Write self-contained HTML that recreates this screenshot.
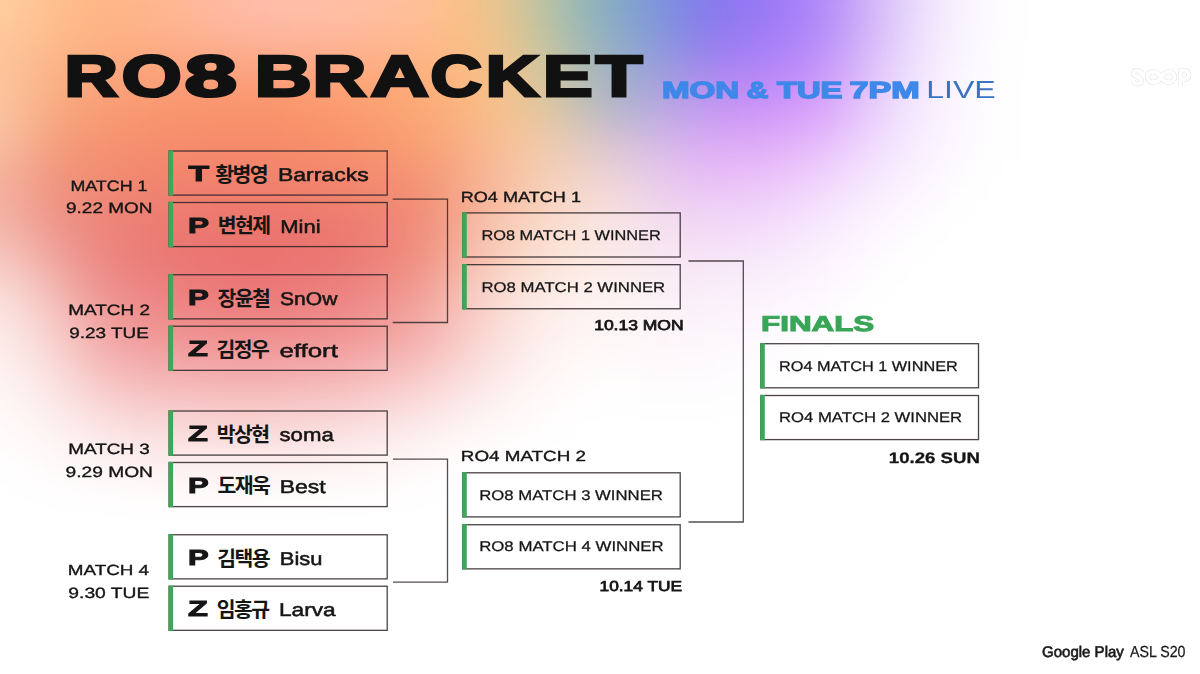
<!DOCTYPE html>
<html lang="en">
<head>
<meta charset="utf-8">
<title>RO8 Bracket</title>
<style>
html,body{margin:0;padding:0;}
body{width:1200px;height:674px;position:relative;overflow:hidden;background:#fff;font-family:"Liberation Sans",sans-serif;}
.t{position:absolute;left:0;top:0;white-space:nowrap;text-rendering:geometricPrecision;line-height:1em;transform-origin:0 0;display:block;letter-spacing:0;}
.g{position:absolute;left:0;top:0;font-size:0;line-height:0;white-space:nowrap;}
.g>.t{position:static;display:inline-block;width:0;vertical-align:top;}
.k{display:inline-block;width:0;vertical-align:top;white-space:nowrap;color:transparent;font-size:18px;line-height:20px;transform-origin:0 0;}
svg.ov{position:absolute;left:0;top:0;}
.tx{position:absolute;left:0;top:0;width:1200px;height:674px;will-change:transform;}
</style>
</head>
<body>
<svg class="ov" width="1200" height="674" viewBox="0 0 1200 674"><defs><filter id="bl" filterUnits="userSpaceOnUse" x="-200" y="-200" width="1600" height="1100" color-interpolation-filters="sRGB"><feGaussianBlur stdDeviation="22"/></filter></defs><g filter="url(#bl)"><rect x="-300" y="-300" width="1800" height="1300" fill="#fff"/><rect x="-80" y="-80" width="41" height="41" fill="#ffcfa0"/><rect x="-40" y="-80" width="41" height="41" fill="#ffcfa0"/><rect x="0" y="-80" width="41" height="41" fill="#ffc99a"/><rect x="40" y="-80" width="41" height="41" fill="#ffbe8e"/><rect x="80" y="-80" width="41" height="41" fill="#ffb585"/><rect x="120" y="-80" width="41" height="41" fill="#ffb68b"/><rect x="160" y="-80" width="41" height="41" fill="#ffb895"/><rect x="200" y="-80" width="41" height="41" fill="#ffbaa1"/><rect x="240" y="-80" width="41" height="41" fill="#ffbcaa"/><rect x="280" y="-80" width="41" height="41" fill="#ffbea8"/><rect x="320" y="-80" width="41" height="41" fill="#ffbfa6"/><rect x="360" y="-80" width="41" height="41" fill="#ffbf9f"/><rect x="400" y="-80" width="41" height="41" fill="#febf98"/><rect x="440" y="-80" width="41" height="41" fill="#fcc086"/><rect x="480" y="-80" width="41" height="41" fill="#e6c58f"/><rect x="520" y="-80" width="41" height="41" fill="#bfc4a1"/><rect x="560" y="-80" width="41" height="41" fill="#97b9b4"/><rect x="600" y="-80" width="41" height="41" fill="#82a8c9"/><rect x="640" y="-80" width="41" height="41" fill="#7d95dd"/><rect x="680" y="-80" width="41" height="41" fill="#837cea"/><rect x="720" y="-80" width="41" height="41" fill="#9077f3"/><rect x="760" y="-80" width="41" height="41" fill="#9f7bf8"/><rect x="800" y="-80" width="41" height="41" fill="#b088f8"/><rect x="840" y="-80" width="41" height="41" fill="#caaaf8"/><rect x="880" y="-80" width="41" height="41" fill="#e3cffb"/><rect x="920" y="-80" width="41" height="41" fill="#f3eafd"/><rect x="960" y="-80" width="41" height="41" fill="#fcf9ff"/><rect x="-80" y="-40" width="41" height="41" fill="#ffcfa0"/><rect x="-40" y="-40" width="41" height="41" fill="#ffcfa0"/><rect x="0" y="-40" width="41" height="41" fill="#ffc99a"/><rect x="40" y="-40" width="41" height="41" fill="#ffbe8e"/><rect x="80" y="-40" width="41" height="41" fill="#ffb585"/><rect x="120" y="-40" width="41" height="41" fill="#ffb68b"/><rect x="160" y="-40" width="41" height="41" fill="#ffb895"/><rect x="200" y="-40" width="41" height="41" fill="#ffbaa1"/><rect x="240" y="-40" width="41" height="41" fill="#ffbcaa"/><rect x="280" y="-40" width="41" height="41" fill="#ffbea8"/><rect x="320" y="-40" width="41" height="41" fill="#ffbfa6"/><rect x="360" y="-40" width="41" height="41" fill="#ffbf9f"/><rect x="400" y="-40" width="41" height="41" fill="#febf98"/><rect x="440" y="-40" width="41" height="41" fill="#fcc086"/><rect x="480" y="-40" width="41" height="41" fill="#e6c58f"/><rect x="520" y="-40" width="41" height="41" fill="#bfc4a1"/><rect x="560" y="-40" width="41" height="41" fill="#97b9b4"/><rect x="600" y="-40" width="41" height="41" fill="#82a8c9"/><rect x="640" y="-40" width="41" height="41" fill="#7d95dd"/><rect x="680" y="-40" width="41" height="41" fill="#837cea"/><rect x="720" y="-40" width="41" height="41" fill="#9077f3"/><rect x="760" y="-40" width="41" height="41" fill="#9f7bf8"/><rect x="800" y="-40" width="41" height="41" fill="#b088f8"/><rect x="840" y="-40" width="41" height="41" fill="#caaaf8"/><rect x="880" y="-40" width="41" height="41" fill="#e3cffb"/><rect x="920" y="-40" width="41" height="41" fill="#f3eafd"/><rect x="960" y="-40" width="41" height="41" fill="#fcf9ff"/><rect x="-80" y="0" width="41" height="41" fill="#ffcfa0"/><rect x="-40" y="0" width="41" height="41" fill="#ffcfa0"/><rect x="0" y="0" width="41" height="41" fill="#ffc99a"/><rect x="40" y="0" width="41" height="41" fill="#ffbe8e"/><rect x="80" y="0" width="41" height="41" fill="#ffb585"/><rect x="120" y="0" width="41" height="41" fill="#ffb68b"/><rect x="160" y="0" width="41" height="41" fill="#ffb895"/><rect x="200" y="0" width="41" height="41" fill="#ffbaa1"/><rect x="240" y="0" width="41" height="41" fill="#ffbcaa"/><rect x="280" y="0" width="41" height="41" fill="#ffbea8"/><rect x="320" y="0" width="41" height="41" fill="#ffbfa6"/><rect x="360" y="0" width="41" height="41" fill="#ffbf9f"/><rect x="400" y="0" width="41" height="41" fill="#febf98"/><rect x="440" y="0" width="41" height="41" fill="#fcc086"/><rect x="480" y="0" width="41" height="41" fill="#e6c58f"/><rect x="520" y="0" width="41" height="41" fill="#bfc4a1"/><rect x="560" y="0" width="41" height="41" fill="#97b9b4"/><rect x="600" y="0" width="41" height="41" fill="#82a8c9"/><rect x="640" y="0" width="41" height="41" fill="#7d95dd"/><rect x="680" y="0" width="41" height="41" fill="#837cea"/><rect x="720" y="0" width="41" height="41" fill="#9077f3"/><rect x="760" y="0" width="41" height="41" fill="#9f7bf8"/><rect x="800" y="0" width="41" height="41" fill="#b088f8"/><rect x="840" y="0" width="41" height="41" fill="#caaaf8"/><rect x="880" y="0" width="41" height="41" fill="#e3cffb"/><rect x="920" y="0" width="41" height="41" fill="#f3eafd"/><rect x="960" y="0" width="41" height="41" fill="#fcf9ff"/><rect x="-80" y="40" width="41" height="41" fill="#fdc59c"/><rect x="-40" y="40" width="41" height="41" fill="#fdc59c"/><rect x="0" y="40" width="41" height="41" fill="#fcbf94"/><rect x="40" y="40" width="41" height="41" fill="#fab486"/><rect x="80" y="40" width="41" height="41" fill="#fbab80"/><rect x="120" y="40" width="41" height="41" fill="#fba87e"/><rect x="160" y="40" width="41" height="41" fill="#fba781"/><rect x="200" y="40" width="41" height="41" fill="#fba885"/><rect x="240" y="40" width="41" height="41" fill="#fca989"/><rect x="280" y="40" width="41" height="41" fill="#fcab89"/><rect x="320" y="40" width="41" height="41" fill="#fdac89"/><rect x="360" y="40" width="41" height="41" fill="#fdaf87"/><rect x="400" y="40" width="41" height="41" fill="#fdb484"/><rect x="440" y="40" width="41" height="41" fill="#fdba83"/><rect x="480" y="40" width="41" height="41" fill="#f1c38d"/><rect x="520" y="40" width="41" height="41" fill="#d3c69c"/><rect x="560" y="40" width="41" height="41" fill="#adbdb2"/><rect x="600" y="40" width="41" height="41" fill="#97adca"/><rect x="640" y="40" width="41" height="41" fill="#949cdd"/><rect x="680" y="40" width="41" height="41" fill="#9c86ec"/><rect x="720" y="40" width="41" height="41" fill="#a780f4"/><rect x="760" y="40" width="41" height="41" fill="#b284f8"/><rect x="800" y="40" width="41" height="41" fill="#bf92f9"/><rect x="840" y="40" width="41" height="41" fill="#d6b4f9"/><rect x="880" y="40" width="41" height="41" fill="#e9d6fc"/><rect x="920" y="40" width="41" height="41" fill="#f6eefe"/><rect x="960" y="40" width="41" height="41" fill="#fdfbff"/><rect x="-80" y="80" width="41" height="41" fill="#fdcaa6"/><rect x="-40" y="80" width="41" height="41" fill="#fdcaa6"/><rect x="0" y="80" width="41" height="41" fill="#fbbe97"/><rect x="40" y="80" width="41" height="41" fill="#f8aa7e"/><rect x="80" y="80" width="41" height="41" fill="#f9a078"/><rect x="120" y="80" width="41" height="41" fill="#f99b73"/><rect x="160" y="80" width="41" height="41" fill="#f99870"/><rect x="200" y="80" width="41" height="41" fill="#fa966e"/><rect x="240" y="80" width="41" height="41" fill="#fa956c"/><rect x="280" y="80" width="41" height="41" fill="#fb996d"/><rect x="320" y="80" width="41" height="41" fill="#fc9d6e"/><rect x="360" y="80" width="41" height="41" fill="#fca371"/><rect x="400" y="80" width="41" height="41" fill="#fcaa74"/><rect x="440" y="80" width="41" height="41" fill="#fbb57e"/><rect x="480" y="80" width="41" height="41" fill="#f7c28a"/><rect x="520" y="80" width="41" height="41" fill="#e1c69b"/><rect x="560" y="80" width="41" height="41" fill="#bdbfb3"/><rect x="600" y="80" width="41" height="41" fill="#aab1cc"/><rect x="640" y="80" width="41" height="41" fill="#b1a6de"/><rect x="680" y="80" width="41" height="41" fill="#ba97ed"/><rect x="720" y="80" width="41" height="41" fill="#c38ff5"/><rect x="760" y="80" width="41" height="41" fill="#cc91f9"/><rect x="800" y="80" width="41" height="41" fill="#d59efa"/><rect x="840" y="80" width="41" height="41" fill="#e3befb"/><rect x="880" y="80" width="41" height="41" fill="#efdffd"/><rect x="920" y="80" width="41" height="41" fill="#f9f2fe"/><rect x="960" y="80" width="41" height="41" fill="#fefcff"/><rect x="-80" y="120" width="41" height="41" fill="#f9c5a8"/><rect x="-40" y="120" width="41" height="41" fill="#f9c5a8"/><rect x="0" y="120" width="41" height="41" fill="#f7b696"/><rect x="40" y="120" width="41" height="41" fill="#f49d7a"/><rect x="80" y="120" width="41" height="41" fill="#f69570"/><rect x="120" y="120" width="41" height="41" fill="#f6906c"/><rect x="160" y="120" width="41" height="41" fill="#f78d6b"/><rect x="200" y="120" width="41" height="41" fill="#f78c6a"/><rect x="240" y="120" width="41" height="41" fill="#f78b69"/><rect x="280" y="120" width="41" height="41" fill="#f88f6a"/><rect x="320" y="120" width="41" height="41" fill="#f9926b"/><rect x="360" y="120" width="41" height="41" fill="#f9996f"/><rect x="400" y="120" width="41" height="41" fill="#faa274"/><rect x="440" y="120" width="41" height="41" fill="#f9ae83"/><rect x="480" y="120" width="41" height="41" fill="#f8bf94"/><rect x="520" y="120" width="41" height="41" fill="#f1c9a7"/><rect x="560" y="120" width="41" height="41" fill="#e2c9be"/><rect x="600" y="120" width="41" height="41" fill="#d4c1d6"/><rect x="640" y="120" width="41" height="41" fill="#d4b7e7"/><rect x="680" y="120" width="41" height="41" fill="#d8aaf3"/><rect x="720" y="120" width="41" height="41" fill="#dca6f7"/><rect x="760" y="120" width="41" height="41" fill="#e0abf9"/><rect x="800" y="120" width="41" height="41" fill="#e5b8fb"/><rect x="840" y="120" width="41" height="41" fill="#edd1fc"/><rect x="880" y="120" width="41" height="41" fill="#f4e6fe"/><rect x="920" y="120" width="41" height="41" fill="#faf4ff"/><rect x="960" y="120" width="41" height="41" fill="#fefcff"/><rect x="-80" y="160" width="41" height="41" fill="#f4b6a1"/><rect x="-40" y="160" width="41" height="41" fill="#f4b6a1"/><rect x="0" y="160" width="41" height="41" fill="#f3a893"/><rect x="40" y="160" width="41" height="41" fill="#f0917b"/><rect x="80" y="160" width="41" height="41" fill="#f18c74"/><rect x="120" y="160" width="41" height="41" fill="#f18670"/><rect x="160" y="160" width="41" height="41" fill="#f1846e"/><rect x="200" y="160" width="41" height="41" fill="#f1826d"/><rect x="240" y="160" width="41" height="41" fill="#f1816d"/><rect x="280" y="160" width="41" height="41" fill="#f2846d"/><rect x="320" y="160" width="41" height="41" fill="#f2866e"/><rect x="360" y="160" width="41" height="41" fill="#f38c70"/><rect x="400" y="160" width="41" height="41" fill="#f49474"/><rect x="440" y="160" width="41" height="41" fill="#f6a786"/><rect x="480" y="160" width="41" height="41" fill="#f8bc9d"/><rect x="520" y="160" width="41" height="41" fill="#f7cdb4"/><rect x="560" y="160" width="41" height="41" fill="#f3d5c9"/><rect x="600" y="160" width="41" height="41" fill="#edd4dd"/><rect x="640" y="160" width="41" height="41" fill="#e8caeb"/><rect x="680" y="160" width="41" height="41" fill="#e8c1f4"/><rect x="720" y="160" width="41" height="41" fill="#eac1f8"/><rect x="760" y="160" width="41" height="41" fill="#edc7fa"/><rect x="800" y="160" width="41" height="41" fill="#f0d3fc"/><rect x="840" y="160" width="41" height="41" fill="#f5e4fd"/><rect x="880" y="160" width="41" height="41" fill="#f9f0fe"/><rect x="920" y="160" width="41" height="41" fill="#fdf9ff"/><rect x="-80" y="200" width="41" height="41" fill="#f4b7aa"/><rect x="-40" y="200" width="41" height="41" fill="#f4b7aa"/><rect x="0" y="200" width="41" height="41" fill="#f2a99d"/><rect x="40" y="200" width="41" height="41" fill="#ee9186"/><rect x="80" y="200" width="41" height="41" fill="#ed867a"/><rect x="120" y="200" width="41" height="41" fill="#ec7e74"/><rect x="160" y="200" width="41" height="41" fill="#ec7a71"/><rect x="200" y="200" width="41" height="41" fill="#ec786f"/><rect x="240" y="200" width="41" height="41" fill="#ec766e"/><rect x="280" y="200" width="41" height="41" fill="#ec786f"/><rect x="320" y="200" width="41" height="41" fill="#ed7b70"/><rect x="360" y="200" width="41" height="41" fill="#ee8273"/><rect x="400" y="200" width="41" height="41" fill="#f08c77"/><rect x="440" y="200" width="41" height="41" fill="#f4a68e"/><rect x="480" y="200" width="41" height="41" fill="#f8c0a8"/><rect x="520" y="200" width="41" height="41" fill="#fad4c1"/><rect x="560" y="200" width="41" height="41" fill="#f9dfd4"/><rect x="600" y="200" width="41" height="41" fill="#f8e1e2"/><rect x="640" y="200" width="41" height="41" fill="#f3daee"/><rect x="680" y="200" width="41" height="41" fill="#f1d6f5"/><rect x="720" y="200" width="41" height="41" fill="#f2d7f9"/><rect x="760" y="200" width="41" height="41" fill="#f4ddfb"/><rect x="800" y="200" width="41" height="41" fill="#f7e7fd"/><rect x="840" y="200" width="41" height="41" fill="#faf1fe"/><rect x="880" y="200" width="41" height="41" fill="#fdf9ff"/><rect x="-80" y="240" width="41" height="41" fill="#f7cec7"/><rect x="-40" y="240" width="41" height="41" fill="#f7cec7"/><rect x="0" y="240" width="41" height="41" fill="#f4beb7"/><rect x="40" y="240" width="41" height="41" fill="#efa19a"/><rect x="80" y="240" width="41" height="41" fill="#ec8882"/><rect x="120" y="240" width="41" height="41" fill="#eb7c78"/><rect x="160" y="240" width="41" height="41" fill="#ea7673"/><rect x="200" y="240" width="41" height="41" fill="#ea7270"/><rect x="240" y="240" width="41" height="41" fill="#ea706e"/><rect x="280" y="240" width="41" height="41" fill="#ea7370"/><rect x="320" y="240" width="41" height="41" fill="#ea7673"/><rect x="360" y="240" width="41" height="41" fill="#ed827a"/><rect x="400" y="240" width="41" height="41" fill="#f09082"/><rect x="440" y="240" width="41" height="41" fill="#f5b09e"/><rect x="480" y="240" width="41" height="41" fill="#f9cbb8"/><rect x="520" y="240" width="41" height="41" fill="#fcded0"/><rect x="560" y="240" width="41" height="41" fill="#fce8df"/><rect x="600" y="240" width="41" height="41" fill="#fbe9e8"/><rect x="640" y="240" width="41" height="41" fill="#f8e6f0"/><rect x="680" y="240" width="41" height="41" fill="#f7e5f6"/><rect x="720" y="240" width="41" height="41" fill="#f7e7f9"/><rect x="760" y="240" width="41" height="41" fill="#f9ecfc"/><rect x="800" y="240" width="41" height="41" fill="#fbf2fd"/><rect x="840" y="240" width="41" height="41" fill="#fdf9ff"/><rect x="-80" y="280" width="41" height="41" fill="#fbe6e2"/><rect x="-40" y="280" width="41" height="41" fill="#fbe6e2"/><rect x="0" y="280" width="41" height="41" fill="#f9d8d4"/><rect x="40" y="280" width="41" height="41" fill="#f4bab6"/><rect x="80" y="280" width="41" height="41" fill="#ee9894"/><rect x="120" y="280" width="41" height="41" fill="#ed8a87"/><rect x="160" y="280" width="41" height="41" fill="#ed8281"/><rect x="200" y="280" width="41" height="41" fill="#ec7e7d"/><rect x="240" y="280" width="41" height="41" fill="#ec7b7b"/><rect x="280" y="280" width="41" height="41" fill="#ec7f7e"/><rect x="320" y="280" width="41" height="41" fill="#ed8381"/><rect x="360" y="280" width="41" height="41" fill="#ef908b"/><rect x="400" y="280" width="41" height="41" fill="#f2a098"/><rect x="440" y="280" width="41" height="41" fill="#f7c0b8"/><rect x="480" y="280" width="41" height="41" fill="#fad9d1"/><rect x="520" y="280" width="41" height="41" fill="#fce9e3"/><rect x="560" y="280" width="41" height="41" fill="#fdf1ed"/><rect x="600" y="280" width="41" height="41" fill="#fcf2f1"/><rect x="640" y="280" width="41" height="41" fill="#fbf0f5"/><rect x="680" y="280" width="41" height="41" fill="#faf0f8"/><rect x="720" y="280" width="41" height="41" fill="#fbf2fb"/><rect x="760" y="280" width="41" height="41" fill="#fcf5fd"/><rect x="800" y="280" width="41" height="41" fill="#fdf8fe"/><rect x="-80" y="320" width="41" height="41" fill="#fdf0ed"/><rect x="-40" y="320" width="41" height="41" fill="#fdf0ed"/><rect x="0" y="320" width="41" height="41" fill="#fbe5e3"/><rect x="40" y="320" width="41" height="41" fill="#f7ccca"/><rect x="80" y="320" width="41" height="41" fill="#f2aaa9"/><rect x="120" y="320" width="41" height="41" fill="#f19b9b"/><rect x="160" y="320" width="41" height="41" fill="#f09595"/><rect x="200" y="320" width="41" height="41" fill="#f09191"/><rect x="240" y="320" width="41" height="41" fill="#ef9090"/><rect x="280" y="320" width="41" height="41" fill="#f09393"/><rect x="320" y="320" width="41" height="41" fill="#f19696"/><rect x="360" y="320" width="41" height="41" fill="#f2a2a0"/><rect x="400" y="320" width="41" height="41" fill="#f4b0ad"/><rect x="440" y="320" width="41" height="41" fill="#f8cac6"/><rect x="480" y="320" width="41" height="41" fill="#fbe0dd"/><rect x="520" y="320" width="41" height="41" fill="#fdefed"/><rect x="560" y="320" width="41" height="41" fill="#fef6f5"/><rect x="600" y="320" width="41" height="41" fill="#fdf8f8"/><rect x="640" y="320" width="41" height="41" fill="#fdf6f9"/><rect x="680" y="320" width="41" height="41" fill="#fcf6fb"/><rect x="720" y="320" width="41" height="41" fill="#fdf8fd"/><rect x="760" y="320" width="41" height="41" fill="#fefbfe"/><rect x="-80" y="360" width="41" height="41" fill="#fef7f5"/><rect x="-40" y="360" width="41" height="41" fill="#fef7f5"/><rect x="0" y="360" width="41" height="41" fill="#fcf0ee"/><rect x="40" y="360" width="41" height="41" fill="#fadedd"/><rect x="80" y="360" width="41" height="41" fill="#f7c5c5"/><rect x="120" y="360" width="41" height="41" fill="#f5b9b9"/><rect x="160" y="360" width="41" height="41" fill="#f5b4b4"/><rect x="200" y="360" width="41" height="41" fill="#f4b2b2"/><rect x="240" y="360" width="41" height="41" fill="#f4b0b0"/><rect x="280" y="360" width="41" height="41" fill="#f5b4b4"/><rect x="320" y="360" width="41" height="41" fill="#f5b7b7"/><rect x="360" y="360" width="41" height="41" fill="#f7c0c0"/><rect x="400" y="360" width="41" height="41" fill="#f8cccb"/><rect x="440" y="360" width="41" height="41" fill="#fadddc"/><rect x="480" y="360" width="41" height="41" fill="#fceceb"/><rect x="520" y="360" width="41" height="41" fill="#fef7f6"/><rect x="560" y="360" width="41" height="41" fill="#fffcfc"/><rect x="600" y="360" width="41" height="41" fill="#fffdfd"/><rect x="640" y="360" width="41" height="41" fill="#fefcfd"/><rect x="680" y="360" width="41" height="41" fill="#fefcfe"/><rect x="720" y="360" width="41" height="41" fill="#fefdfe"/><rect x="-80" y="400" width="41" height="41" fill="#fefcfb"/><rect x="-40" y="400" width="41" height="41" fill="#fefcfb"/><rect x="0" y="400" width="41" height="41" fill="#fef8f7"/><rect x="40" y="400" width="41" height="41" fill="#fceeed"/><rect x="80" y="400" width="41" height="41" fill="#fbe0e0"/><rect x="120" y="400" width="41" height="41" fill="#f9d7d7"/><rect x="160" y="400" width="41" height="41" fill="#f9d4d4"/><rect x="200" y="400" width="41" height="41" fill="#f9d2d2"/><rect x="240" y="400" width="41" height="41" fill="#f9d2d2"/><rect x="280" y="400" width="41" height="41" fill="#f9d5d5"/><rect x="320" y="400" width="41" height="41" fill="#fad8d8"/><rect x="360" y="400" width="41" height="41" fill="#fbdfdf"/><rect x="400" y="400" width="41" height="41" fill="#fce7e7"/><rect x="440" y="400" width="41" height="41" fill="#fdf1f1"/><rect x="480" y="400" width="41" height="41" fill="#fef8f8"/><rect x="520" y="400" width="41" height="41" fill="#fffdfd"/><rect x="0" y="440" width="41" height="41" fill="#fffdfd"/><rect x="40" y="440" width="41" height="41" fill="#fef9f9"/><rect x="80" y="440" width="41" height="41" fill="#fdf4f4"/><rect x="120" y="440" width="41" height="41" fill="#fdefef"/><rect x="160" y="440" width="41" height="41" fill="#fdeded"/><rect x="200" y="440" width="41" height="41" fill="#fdeded"/><rect x="240" y="440" width="41" height="41" fill="#fdeded"/><rect x="280" y="440" width="41" height="41" fill="#fdefef"/><rect x="320" y="440" width="41" height="41" fill="#fdf1f1"/><rect x="360" y="440" width="41" height="41" fill="#fef5f5"/><rect x="400" y="440" width="41" height="41" fill="#fef9f9"/></g></svg>
<svg class="ov" width="1200" height="674" viewBox="0 0 1200 674">
<g stroke="#2b2224" stroke-opacity=".85" stroke-width="1.3">
<rect x="169.10" y="151.00" width="218.10" height="44.10" fill="none"/>
<rect x="169.10" y="202.50" width="218.10" height="44.10" fill="none"/>
<rect x="169.10" y="274.75" width="218.10" height="44.10" fill="none"/>
<rect x="169.10" y="326.25" width="218.10" height="44.10" fill="none"/>
<rect x="169.10" y="411.00" width="218.10" height="44.10" fill="none"/>
<rect x="169.10" y="462.50" width="218.10" height="44.10" fill="none"/>
<rect x="169.10" y="534.75" width="218.10" height="44.10" fill="none"/>
<rect x="169.10" y="586.25" width="218.10" height="44.10" fill="none"/>
<rect x="462.80" y="212.90" width="217.40" height="44.10" fill="rgba(255,255,255,.1)"/>
<rect x="462.80" y="264.65" width="217.40" height="44.10" fill="rgba(255,255,255,.1)"/>
<rect x="462.80" y="472.80" width="217.40" height="44.10" fill="rgba(255,255,255,.1)"/>
<rect x="462.80" y="524.75" width="217.40" height="44.10" fill="rgba(255,255,255,.1)"/>
<rect x="760.80" y="343.70" width="217.70" height="44.10" fill="rgba(255,255,255,.1)"/>
<rect x="760.80" y="395.50" width="217.70" height="44.10" fill="rgba(255,255,255,.1)"/>
</g>
<g fill="#3da75a">
<rect x="168.50" y="150.40" width="4.6" height="45.30"/>
<rect x="168.50" y="201.90" width="4.6" height="45.30"/>
<rect x="168.50" y="274.15" width="4.6" height="45.30"/>
<rect x="168.50" y="325.65" width="4.6" height="45.30"/>
<rect x="168.50" y="410.40" width="4.6" height="45.30"/>
<rect x="168.50" y="461.90" width="4.6" height="45.30"/>
<rect x="168.50" y="534.15" width="4.6" height="45.30"/>
<rect x="168.50" y="585.65" width="4.6" height="45.30"/>
<rect x="462.20" y="212.30" width="4.6" height="45.30"/>
<rect x="462.20" y="264.05" width="4.6" height="45.30"/>
<rect x="462.20" y="472.20" width="4.6" height="45.30"/>
<rect x="462.20" y="524.15" width="4.6" height="45.30"/>
<rect x="760.20" y="343.10" width="4.6" height="45.30"/>
<rect x="760.20" y="394.90" width="4.6" height="45.30"/>
</g>
<g fill="none" stroke="#2b2224" stroke-opacity=".8" stroke-width="1.3">
<path d="M392.7 199.1H447.5V322.5H392.7"/>
<path d="M393 459.1H447.5V582.1H393"/>
<path d="M688.5 261H743.3V522H688.5"/>
</g>
<g fill="#151515" font-family="&quot;Liberation Sans&quot;, &quot;Noto Sans CJK KR&quot;, sans-serif" font-size="20.5" font-weight="700" letter-spacing="-1.6">
<text x="215.28" y="181.95">황병영</text>
<text x="217.85" y="233.45">변현제</text>
<text x="217.59" y="305.70">장윤철</text>
<text x="216.58" y="357.20">김정우</text>
<text x="216.79" y="441.95">박상현</text>
<text x="217.42" y="493.45">도재욱</text>
<text x="217.34" y="565.70">김택용</text>
<text x="216.74" y="617.20">임홍규</text>
</g>
<g fill="none" stroke-linecap="butt" stroke-linejoin="round">
<g stroke="#e2e2e2" stroke-width="5">
<path d="M1141.500 73C1139.500 69.500 1133.500 69.800 1133.500 73.600C1133.500 77.200 1141.500 76.600 1141.500 80.500C1141.500 84.600 1135 84.600 1133 81.200"/>
<path d="M1161 77C1157 70 1147.500 70 1147.500 77C1147.500 84 1157 84 1161 77C1165 70 1174.500 70 1174.500 77C1174.500 84 1165 84 1161 77Z"/>
<path d="M1180.500 86V70.500H1184.500C1190.300 70.500 1190.300 79.500 1184.500 79.500H1180.500"/>
</g>
<g stroke="#fff" stroke-width="3.8">
<path d="M1141.500 73C1139.500 69.500 1133.500 69.800 1133.500 73.600C1133.500 77.200 1141.500 76.600 1141.500 80.500C1141.500 84.600 1135 84.600 1133 81.200"/>
<path d="M1161 77C1157 70 1147.500 70 1147.500 77C1147.500 84 1157 84 1161 77C1165 70 1174.500 70 1174.500 77C1174.500 84 1165 84 1161 77Z"/>
<path d="M1180.500 86V70.500H1184.500C1190.300 70.500 1190.300 79.500 1184.500 79.500H1180.500"/>
</g>
</g>
</svg>
<div class="tx">
<div class="g"><span class="t" style="font-size:57.85px;transform:translate(64.41px,49.45px) scaleX(1.2744);color:#111;font-weight:700;-webkit-text-stroke:3.0px #111;">R</span><span class="t" style="font-size:57.85px;transform:translate(121.70px,49.34px) scaleX(1.3299);color:#111;font-weight:700;-webkit-text-stroke:3.0px #111;">O</span><span class="t" style="font-size:57.85px;transform:translate(184.65px,49.23px) scaleX(1.6186);color:#111;font-weight:700;-webkit-text-stroke:3.0px #111;">8</span> <span class="t" style="font-size:57.85px;transform:translate(254.63px,49.34px) scaleX(1.3612);color:#111;font-weight:700;-webkit-text-stroke:3.0px #111;">B</span><span class="t" style="font-size:57.85px;transform:translate(312.86px,49.45px) scaleX(1.2767);color:#111;font-weight:700;-webkit-text-stroke:3.0px #111;">R</span><span class="t" style="font-size:57.85px;transform:translate(370.75px,49.45px) scaleX(1.3865);color:#111;font-weight:700;-webkit-text-stroke:3.0px #111;">A</span><span class="t" style="font-size:57.85px;transform:translate(430.59px,49.23px) scaleX(1.2318);color:#111;font-weight:700;-webkit-text-stroke:3.0px #111;">C</span><span class="t" style="font-size:57.85px;transform:translate(485.73px,49.23px) scaleX(1.2648);color:#111;font-weight:700;-webkit-text-stroke:3.0px #111;">K</span><span class="t" style="font-size:57.85px;transform:translate(542.96px,49.23px) scaleX(1.2836);color:#111;font-weight:700;-webkit-text-stroke:3.0px #111;">E</span><span class="t" style="font-size:57.85px;transform:translate(595.71px,49.23px) scaleX(1.3170);color:#111;font-weight:700;-webkit-text-stroke:3.0px #111;">T</span></div>
<div class="g"><span class="t" style="font-size:23.26px;transform:translate(662.00px,79.01px) scaleX(1.4243);color:#3f88ea;font-weight:700;-webkit-text-stroke:1.4px #3f88ea;">MON</span> <span class="t" style="font-size:23.26px;transform:translate(746.47px,78.68px) scaleX(1.2997);color:#3f88ea;font-weight:700;-webkit-text-stroke:1.4px #3f88ea;">&amp;</span> <span class="t" style="font-size:23.26px;transform:translate(776.90px,79.01px) scaleX(1.4067);color:#3f88ea;font-weight:700;-webkit-text-stroke:1.4px #3f88ea;">TUE</span> <span class="t" style="font-size:23.26px;transform:translate(849.52px,78.68px) scaleX(1.4671);color:#3f88ea;font-weight:700;-webkit-text-stroke:1.4px #3f88ea;">7PM</span> <span class="t" style="font-size:24.71px;transform:translate(926.16px,79.08px) scaleX(1.2991);color:#3a72c4;">LIVE</span></div>
<div class="g"><span class="t" style="font-size:15.04px;transform:translate(70.46px,178.84px) scaleX(1.1859);color:#151515;-webkit-text-stroke:0.35px #151515;">MATCH 1</span> <span class="t" style="font-size:15.04px;transform:translate(66.00px,201.09px) scaleX(1.2641);color:#151515;-webkit-text-stroke:0.35px #151515;">9.22 MON</span></div>
<div class="g"><span class="t" style="font-size:14.90px;transform:translate(68.22px,304.21px) scaleX(1.2724);color:#151515;-webkit-text-stroke:0.35px #151515;">MATCH 2</span> <span class="t" style="font-size:14.90px;transform:translate(69.17px,327.21px) scaleX(1.2707);color:#151515;-webkit-text-stroke:0.35px #151515;">9.23 TUE</span></div>
<div class="g"><span class="t" style="font-size:14.90px;transform:translate(68.24px,443.21px) scaleX(1.2691);color:#151515;-webkit-text-stroke:0.35px #151515;">MATCH 3</span> <span class="t" style="font-size:14.90px;transform:translate(65.54px,465.96px) scaleX(1.2878);color:#151515;-webkit-text-stroke:0.35px #151515;">9.29 MON</span></div>
<div class="g"><span class="t" style="font-size:14.68px;transform:translate(67.76px,564.14px) scaleX(1.2847);color:#151515;-webkit-text-stroke:0.35px #151515;">MATCH 4</span> <span class="t" style="font-size:14.90px;transform:translate(68.36px,586.91px) scaleX(1.2926);color:#151515;-webkit-text-stroke:0.35px #151515;">9.30 TUE</span></div>
<span class="t" style="font-size:14.75px;transform:translate(460.69px,190.83px) scaleX(1.2262);color:#151515;-webkit-text-stroke:0.35px #151515;">RO4 MATCH 1</span>
<span class="t" style="font-size:14.61px;transform:translate(460.78px,450.41px) scaleX(1.2889);color:#151515;-webkit-text-stroke:0.35px #151515;">RO4 MATCH 2</span>
<span class="t" style="font-size:14.03px;transform:translate(481.43px,227.85px) scaleX(1.1653);color:#151515;-webkit-text-stroke:0.25px #151515;">RO8 MATCH 1 WINNER</span>
<span class="t" style="font-size:14.03px;transform:translate(481.53px,279.50px) scaleX(1.1932);color:#151515;-webkit-text-stroke:0.25px #151515;">RO8 MATCH 2 WINNER</span>
<span class="t" style="font-size:14.03px;transform:translate(479.25px,487.85px) scaleX(1.1931);color:#151515;-webkit-text-stroke:0.25px #151515;">RO8 MATCH 3 WINNER</span>
<span class="t" style="font-size:14.03px;transform:translate(479.16px,539.15px) scaleX(1.1989);color:#151515;-webkit-text-stroke:0.25px #151515;">RO8 MATCH 4 WINNER</span>
<span class="t" style="font-size:14.03px;transform:translate(779.02px,358.55px) scaleX(1.1613);color:#151515;-webkit-text-stroke:0.25px #151515;">RO4 MATCH 1 WINNER</span>
<span class="t" style="font-size:14.03px;transform:translate(779.03px,410.05px) scaleX(1.1898);color:#151515;-webkit-text-stroke:0.25px #151515;">RO4 MATCH 2 WINNER</span>
<span class="t" style="font-size:14.32px;transform:translate(594.15px,319.21px) scaleX(1.2223);color:#151515;-webkit-text-stroke:0.75px #151515;">10.13 MON</span>
<span class="t" style="font-size:14.46px;transform:translate(599.54px,579.89px) scaleX(1.1986);color:#151515;-webkit-text-stroke:0.75px #151515;">10.14 TUE</span>
<span class="t" style="font-size:15.12px;transform:translate(888.81px,450.50px) scaleX(1.2314);color:#151515;font-weight:700;-webkit-text-stroke:0.3px #151515;">10.26 SUN</span>
<span class="t" style="font-size:21.51px;transform:translate(761.01px,314.41px) scaleX(1.4592);color:#39a557;font-weight:700;-webkit-text-stroke:1.0px #39a557;">FINALS</span>
<div class="g"><span class="t" style="font-size:21.80px;transform:translate(188.46px,162.56px) scaleX(1.5473);color:#151515;font-weight:700;-webkit-text-stroke:1.0px #151515;">T</span> <span class="k" style="transform:translate(214.9px,162.5px)">황병영</span> <span class="t" style="font-size:18.46px;transform:translate(277.92px,166.37px) scaleX(1.2469);color:#151515;-webkit-text-stroke:0.5px #151515;">Barracks</span></div>
<div class="g"><span class="t" style="font-size:21.80px;transform:translate(188.05px,214.57px) scaleX(1.4484);color:#151515;font-weight:700;-webkit-text-stroke:1.0px #151515;">P</span> <span class="k" style="transform:translate(219.5px,214.0px)">변현제</span> <span class="t" style="font-size:18.46px;transform:translate(280.16px,218.12px) scaleX(1.1956);color:#151515;-webkit-text-stroke:0.5px #151515;">Mini</span></div>
<div class="g"><span class="t" style="font-size:21.80px;transform:translate(188.09px,286.81px) scaleX(1.4318);color:#151515;font-weight:700;-webkit-text-stroke:1.0px #151515;">P</span> <span class="k" style="transform:translate(218.0px,286.2px)">장윤철</span> <span class="t" style="font-size:18.46px;transform:translate(280.04px,290.37px) scaleX(1.1435);color:#151515;-webkit-text-stroke:0.5px #151515;">SnOw</span></div>
<div class="g"><span class="t" style="font-size:21.80px;transform:translate(188.02px,338.31px) scaleX(1.4912);color:#151515;font-weight:700;-webkit-text-stroke:1.0px #151515;">Z</span> <span class="k" style="transform:translate(217.5px,337.8px)">김정우</span> <span class="t" style="font-size:18.46px;transform:translate(279.42px,341.87px) scaleX(1.4028);color:#151515;-webkit-text-stroke:0.5px #151515;">effort</span></div>
<div class="g"><span class="t" style="font-size:21.80px;transform:translate(188.02px,422.56px) scaleX(1.4912);color:#151515;font-weight:700;-webkit-text-stroke:1.0px #151515;">Z</span> <span class="k" style="transform:translate(217.8px,422.5px)">박상현</span> <span class="t" style="font-size:18.46px;transform:translate(279.47px,425.87px) scaleX(1.2037);color:#151515;-webkit-text-stroke:0.5px #151515;">soma</span></div>
<div class="g"><span class="t" style="font-size:21.80px;transform:translate(188.08px,474.55px) scaleX(1.4226);color:#151515;font-weight:700;-webkit-text-stroke:1.0px #151515;">P</span> <span class="k" style="transform:translate(218.6px,474.0px)">도재욱</span> <span class="t" style="font-size:18.46px;transform:translate(279.72px,478.12px) scaleX(1.2464);color:#151515;-webkit-text-stroke:0.5px #151515;">Best</span></div>
<div class="g"><span class="t" style="font-size:21.80px;transform:translate(188.11px,546.81px) scaleX(1.4236);color:#151515;font-weight:700;-webkit-text-stroke:1.0px #151515;">P</span> <span class="k" style="transform:translate(218.6px,546.2px)">김택용</span> <span class="t" style="font-size:18.46px;transform:translate(279.82px,550.37px) scaleX(1.1892);color:#151515;-webkit-text-stroke:0.5px #151515;">Bisu</span></div>
<div class="g"><span class="t" style="font-size:21.80px;transform:translate(188.02px,598.31px) scaleX(1.4912);color:#151515;font-weight:700;-webkit-text-stroke:1.0px #151515;">Z</span> <span class="k" style="transform:translate(218.0px,597.8px)">임홍규</span> <span class="t" style="font-size:18.46px;transform:translate(279.01px,601.37px) scaleX(1.2284);color:#151515;-webkit-text-stroke:0.5px #151515;">Larva</span></div>
<div class="g"><span class="t" style="font-size:15.41px;transform:translate(1042.03px,644.88px) scaleX(0.9747);color:#1a1a1a;-webkit-text-stroke:0.65px #1a1a1a;">Google Play</span> <span class="t" style="font-size:15.99px;transform:translate(1129.93px,645.09px) scaleX(0.8888);color:#1a1a1a;-webkit-text-stroke:0.25px #1a1a1a;">ASL S20</span></div>
</div>
</body>
</html>
